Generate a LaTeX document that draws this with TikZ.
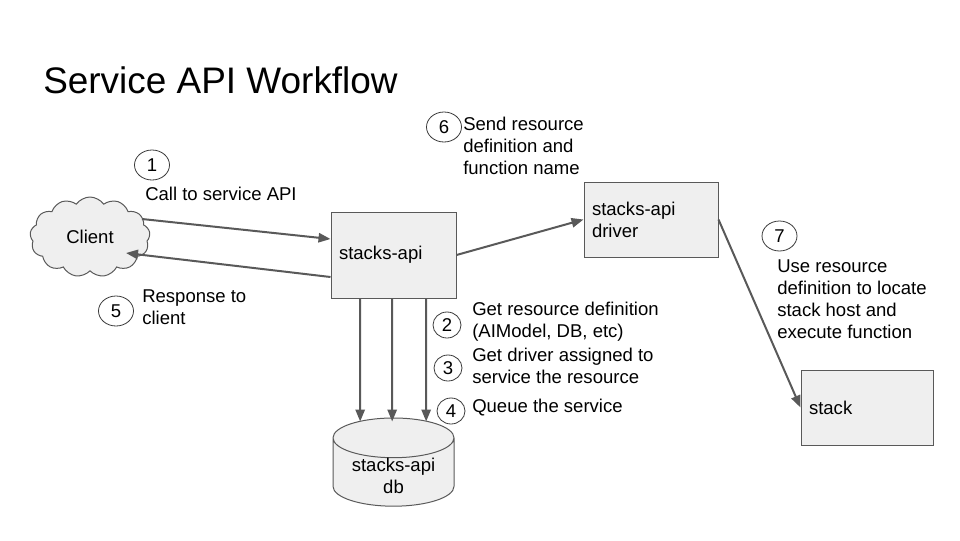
\documentclass[tikz,border=0pt]{standalone}
\usepackage{fontspec}
\setmainfont{Liberation Sans}
\usetikzlibrary{arrows.meta,shapes.geometric,shapes.symbols}
\definecolor{boxfill}{HTML}{EFEFEF}
\definecolor{boxline}{HTML}{595959}
\definecolor{flowgray}{HTML}{595959}
\definecolor{ringline}{HTML}{3A3A3A}
\newcommand{\bodyfont}{\fontsize{13.9}{16.5}\selectfont}
\begin{document}
\begin{tikzpicture}[x=0.75pt, y=-0.75pt,
    box/.style={draw=boxline, fill=boxfill, line width=0.75pt, inner xsep=6pt, inner ysep=0pt, align=left, font=\bodyfont},
    num/.style={ellipse, draw=ringline, line width=0.6pt, inner sep=0pt, minimum width=26.25pt, minimum height=22.5pt, font=\bodyfont},
    smallnum/.style={num, minimum width=21pt, minimum height=19.5pt},
    note/.style={anchor=west, align=left, inner sep=0pt, font=\bodyfont},
    flow/.style={draw=flowgray, line width=1.5pt, -{Triangle[length=9pt, width=7pt]}}]
            \useasboundingbox (0,0) rectangle (960,540);
            \node[anchor=base west, inner sep=0pt, font=\fontsize{27.7}{33}\selectfont] (title) at (43,93) {Service API Workflow};
            \node[cloud, cloud puffs=13, cloud puff arc=110, aspect=1.5, draw=boxline, fill=boxfill, line width=0.75pt, minimum width=90pt, minimum height=60pt, font=\bodyfont] (client) at (90,237) {Client};
            \node[box, minimum width=93.75pt, minimum height=64.5pt, text width=81.75pt] (api) at (393.5,255) {stacks-api};
            \node[box, minimum width=100.5pt, minimum height=56.25pt, text width=88.5pt] (driver) at (651,219.5) {stacks-api\\driver};
            \node[box, minimum width=99pt, minimum height=56.25pt, text width=87pt] (stack) at (867,407.5) {stack};
            \node[cylinder, shape border rotate=90, aspect=0.43, draw=boxline, fill=boxfill, line width=0.75pt, inner ysep=0pt, minimum width=90.75pt, minimum height=64.5pt, align=center, font=\bodyfont] (db) at (393.5,476) {stacks-api\\db};
            \draw[flow] ([xshift=39pt,yshift=13.5pt]client.center) -- ([yshift=12pt]api.west);
            \draw[flow] ([yshift=-16.5pt]api.west) -- ([xshift=27pt,yshift=-12pt]client.center);
            \draw[flow] (api.east) -- (driver.west);
            \draw[flow] (driver.east) -- (stack.west);
            \foreach \dx in {-25, -1, 24.5}
                \draw[flow, shorten >=-3pt] ([xshift=\dx pt]api.south) -- ([xshift=\dx pt]db.north);
            \node[num] (n1) at (152,165) {1};
            \node[note] (t1) at (145,194) {Call to service API};
            \node[num] (n5) at (116,311) {5};
            \node[note] (t5) at (142,307) {Response to\\client};
            \node[num] (n6) at (444,127) {6};
            \node[note] (t6) at (463,146) {Send resource\\definition and\\function name};
            \node[smallnum] (n2) at (447,325) {2};
            \node[note] (t2) at (472,321.5) {Get resource definition\\(AIModel, DB, etc)};
            \node[smallnum] (n3) at (448,368) {3};
            \node[note] (t3) at (472,366) {Get driver assigned to\\service the resource};
            \node[smallnum] (n4) at (451,411) {4};
            \node[note] (t4) at (472,408) {Queue the service};
            \node[num] (n7) at (779.5,236) {7};
            \node[note] (t7) at (777,299) {Use resource\\definition to locate\\stack host and\\execute function};
        \end{tikzpicture}
\end{document}
